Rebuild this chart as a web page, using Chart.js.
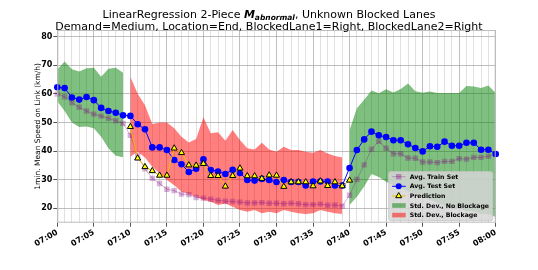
<!DOCTYPE html>
<html>
<head>
<meta charset="utf-8">
<script src="https://cdn.jsdelivr.net/npm/chart.js@4.4.0/dist/chart.umd.min.js"></script>
<style>
  html, body { margin: 0; padding: 0; background: #fff; }
  #wrap { width: 538px; height: 270px; position: relative; }
</style>
</head>
<body>
<div id="wrap"><canvas id="speedChart"></canvas></div>
<script>
// minute-by-minute time axis
const times = ['07:00','07:01','07:02','07:03','07:04','07:05','07:06','07:07','07:08','07:09',
  '07:10','07:11','07:12','07:13','07:14','07:15','07:16','07:17','07:18','07:19',
  '07:20','07:21','07:22','07:23','07:24','07:25','07:26','07:27','07:28','07:29',
  '07:30','07:31','07:32','07:33','07:34','07:35','07:36','07:37','07:38','07:39',
  '07:40','07:41','07:42','07:43','07:44','07:45','07:46','07:47','07:48','07:49',
  '07:50','07:51','07:52','07:53','07:54','07:55','07:56','07:57','07:58','07:59','08:00'];
const yTicks = [20, 30, 40, 50, 60, 70, 80];

const trainSet = [59.9, 59.0, 56.9, 55.3, 54.0, 52.9, 52.2, 51.5, 50.6, 49.7,
  45.5, 38.5, 33.8, 30.5, 28.7, 26.7, 26.2, 25.0, 24.8, 23.8,
  23.6, 23.2, 22.8, 22.5, 22.4, 22.2, 21.9, 21.9, 22.0, 21.8,
  21.8, 21.6, 21.8, 21.6, 21.3, 21.3, 21.5, 21.1, 21.2, 20.8,
  24.6, 30.1, 35.2, 40.7, 43.4, 41.0, 39.1, 39.1, 37.6, 37.5,
  36.2, 36.2, 36.0, 36.4, 36.4, 37.4, 37.2, 37.8, 37.8, 38.2, 38.9];
const testSet = [62.3, 62.0, 58.7, 58.0, 58.9, 57.8, 55.1, 54.0, 53.4, 52.5,
  52.3, 49.4, 47.6, 41.3, 41.3, 40.4, 36.9, 35.4, 32.7, 33.8,
  37.1, 33.4, 32.9, 32.0, 33.5, 32.4, 29.9, 29.7, 30.3, 29.9,
  29.2, 29.9, 29.2, 29.2, 28.0, 29.4, 29.4, 29.4, 28.0, 28.0,
  34.1, 40.4, 44.1, 46.8, 45.5, 44.9, 43.8, 43.8, 42.4, 41.1,
  39.9, 41.7, 41.5, 43.3, 41.9, 41.9, 42.9, 42.9, 40.5, 40.5, 39.0];
const prediction = [null, null, null, null, null, null, null, null, null, null,
  48.5, 37.5, 34.5, 33.1, 31.5, 31.5, 41.0, 39.4, 35.1, 35.0,
  35.6, 31.4, 31.4, 27.7, 31.4, 34.0, 31.3, 31.3, 30.4, 31.6,
  31.5, 27.6, 29.2, 29.2, 29.2, 27.8, 29.5, 27.9, 29.2, 27.8,
  29.8, null, null, null, null, null, null, null, null, null,
  null, null, null, null, null, null, null, null, null, null, null];
// std. dev. band, no blockage
const normalUpper = [68.5, 71.3, 68.6, 67.8, 68.9, 69.1, 66.0, 68.8, 69.1, 67.4,
  null, null, null, null, null, null, null, null, null, null,
  null, null, null, null, null, null, null, null, null, null,
  null, null, null, null, null, null, null, null, null, null,
  47.4, 55.0, 57.9, 61.2, 60.2, 61.6, 60.5, 61.7, 63.6, 60.9,
  60.4, 60.8, 60.3, 60.3, 60.3, 60.3, 62.7, 62.6, 62.0, 62.9, 60.3];
const normalLower = [57.4, 54.0, 50.0, 48.4, 48.6, 48.0, 45.0, 41.0, 38.4, 37.9,
  null, null, null, null, null, null, null, null, null, null,
  null, null, null, null, null, null, null, null, null, null,
  null, null, null, null, null, null, null, null, null, null,
  21.2, 24.1, 27.6, 32.0, 31.0, 29.3, 28.0, 27.0, 26.0, 25.0,
  24.0, 23.0, 22.0, 21.0, 20.0, 20.0, 19.0, 19.0, 18.0, 18.0, 17.0];
// std. dev. band, blockage
const blockUpper = [null, null, null, null, null, null, null, null, null, null,
  66.0, 60.0, 56.0, 49.5, 50.0, 50.0, 48.0, 45.0, 43.0, 44.2,
  51.8, 46.2, 46.6, 43.6, 47.4, 43.9, 41.0, 40.6, 42.9, 40.6,
  39.8, 41.5, 40.4, 40.4, 39.8, 39.4, 40.4, 39.2, 38.3, 37.8,
  null, null, null, null, null, null, null, null, null, null,
  null, null, null, null, null, null, null, null, null, null, null];
const blockLower = [null, null, null, null, null, null, null, null, null, null,
  38.0, 39.8, 37.8, 34.5, 32.2, 29.9, 28.1, 25.8, 25.0, 24.1,
  22.9, 22.3, 21.2, 21.7, 20.6, 19.4, 18.8, 19.4, 18.3, 18.8,
  18.3, 19.4, 18.8, 18.3, 18.0, 18.3, 19.4, 18.8, 18.3, 18.0,
  null, null, null, null, null, null, null, null, null, null,
  null, null, null, null, null, null, null, null, null, null, null];

const FONT = '"DejaVu Sans", sans-serif';
const GREEN = 'rgba(0,128,0,0.5)';
const RED = 'rgba(255,0,0,0.5)';
const PURPLE = 'rgba(128,0,128,0.3)';

// two-line title with bold italic M_abnormal
const titlePlugin = {
  id: 'twoLineTitle',
  afterDraw(chart) {
    const ctx = chart.ctx;
    ctx.save();
    ctx.fillStyle = '#000';
    ctx.textBaseline = 'alphabetic';
    const parts = [
      { t: 'LinearRegression 2-Piece ', f: '11px ' + FONT, dy: 0 },
      { t: 'M', f: 'italic bold 11px ' + FONT, dy: 0 },
      { t: 'abnormal', f: 'italic bold 7.5px ' + FONT, dy: 2 },
      { t: ', Unknown Blocked Lanes', f: '11px ' + FONT, dy: 0 }
    ];
    let total = 0;
    parts.forEach(p => { ctx.font = p.f; p.w = ctx.measureText(p.t).width; total += p.w; });
    let x = 269 - total / 2;
    parts.forEach(p => { ctx.font = p.f; ctx.fillText(p.t, x, 17.5 + p.dy); x += p.w; });
    ctx.font = '11px ' + FONT;
    ctx.textAlign = 'center';
    ctx.fillText('Demand=Medium, Location=End, BlockedLane1=Right, BlockedLane2=Right', 269, 29.5);
    ctx.restore();
  }
};

// frame around the plot area
const framePlugin = {
  id: 'frame',
  afterDatasetsDraw(chart) {
    const a = chart.chartArea, ctx = chart.ctx;
    ctx.save();
    ctx.strokeStyle = '#bdbdbd';
    ctx.lineWidth = 1;
    ctx.strokeRect(a.left + 0.5, a.top + 0.5, a.right - a.left - 1, a.bottom - a.top - 1);
    ctx.restore();
  }
};

// legend box in lower right
const legendPlugin = {
  id: 'boxLegend',
  afterDraw(chart) {
    const ctx = chart.ctx;
    const a = chart.chartArea;
    const bx = a.right - 107, by = a.bottom - 51, bw = 104, bh = 49;
    ctx.save();
    ctx.fillStyle = 'rgba(214,214,214,0.85)';
    ctx.strokeStyle = 'rgba(200,200,200,0.9)';
    ctx.beginPath();
    ctx.roundRect(bx, by, bw, bh, 2);
    ctx.fill();
    ctx.stroke();
    const rows = [
      { label: 'Avg. Train Set', kind: 'train' },
      { label: 'Avg. Test Set', kind: 'test' },
      { label: 'Prediction', kind: 'pred' },
      { label: 'Std. Dev., No Blockage', kind: 'green' },
      { label: 'Std. Dev., Blockage', kind: 'red' }
    ];
    const mx = bx + 10, x0 = bx + 3.5, x1 = bx + 17;
    rows.forEach((r, i) => {
      const y = by + 5 + i * 9.6;
      if (r.kind === 'green' || r.kind === 'red') {
        ctx.fillStyle = r.kind === 'green' ? GREEN : RED;
        ctx.fillRect(x0, y - 2.3, x1 - x0, 4.6);
      } else {
        ctx.lineWidth = 1;
        ctx.strokeStyle = r.kind === 'train' ? PURPLE : (r.kind === 'test' ? 'blue' : '#f2c200');
        ctx.beginPath(); ctx.moveTo(x0, y); ctx.lineTo(x1, y); ctx.stroke();
        if (r.kind === 'train') {
          ctx.fillStyle = 'rgba(128,0,128,0.35)';
          ctx.fillRect(mx - 2.7, y - 2.7, 5.4, 5.4);
        } else if (r.kind === 'test') {
          ctx.fillStyle = 'blue';
          ctx.beginPath(); ctx.arc(mx, y, 3, 0, Math.PI * 2); ctx.fill();
        } else {
          ctx.fillStyle = 'yellow'; ctx.strokeStyle = '#000';
          ctx.beginPath();
          ctx.moveTo(mx, y - 3.4); ctx.lineTo(mx + 3, y + 1.8); ctx.lineTo(mx - 3, y + 1.8);
          ctx.closePath(); ctx.fill(); ctx.stroke();
        }
      }
      ctx.fillStyle = '#000';
      ctx.font = 'bold 6.2px ' + FONT;
      ctx.textBaseline = 'middle';
      ctx.fillText(r.label, bx + 21, y + 0.5);
    });
    ctx.restore();
  }
};

const MAJOR = 'rgba(170,170,170,0.75)';
const MINOR = 'rgba(200,200,200,0.55)';

new Chart(document.getElementById('speedChart').getContext('2d'), {
  type: 'line',
  data: {
    labels: times,
    datasets: [
      { data: normalLower, borderWidth: 0, pointRadius: 0, fill: false, order: 20 },
      { data: normalUpper, borderWidth: 0, pointRadius: 0, fill: '-1', backgroundColor: GREEN, order: 19 },
      { data: blockLower, borderWidth: 0, pointRadius: 0, fill: false, order: 18 },
      { data: blockUpper, borderWidth: 0, pointRadius: 0, fill: '-1', backgroundColor: RED, order: 17 },
      {
        label: 'Avg. Train Set', data: trainSet, borderColor: PURPLE, borderWidth: 1,
        pointStyle: 'rect', pointRadius: 3.8, pointBackgroundColor: PURPLE, pointBorderWidth: 0, order: 3
      },
      {
        label: 'Avg. Test Set', data: testSet, borderColor: 'blue', borderWidth: 1,
        pointStyle: 'circle', pointRadius: 3.3, pointBackgroundColor: 'blue', pointBorderWidth: 0, order: 2
      },
      {
        label: 'Prediction', data: prediction, borderColor: '#f2b800', borderWidth: 1,
        pointStyle: 'triangle', pointRadius: 3.5, pointBackgroundColor: 'yellow',
        pointBorderColor: '#000', pointBorderWidth: 1, order: 1
      }
    ]
  },
  options: {
    responsive: true,
    maintainAspectRatio: false,
    animation: false,
    layout: { padding: { top: 30, right: 42.3, left: 29.5, bottom: 0 } },
    plugins: { legend: { display: false }, tooltip: { enabled: false }, title: { display: false } },
    elements: { line: { tension: 0 } },
    scales: {
      x: {
        type: 'category',
        offset: false,
        afterFit: s => { s.height = 47.3; },
        grid: {
          color: c => (c.index % 5 === 0 ? MAJOR : MINOR),
          tickColor: c => (c.index % 5 === 0 ? '#555' : 'rgba(0,0,0,0)'),
          tickLength: 4
        },
        border: { display: false },
        ticks: {
          autoSkip: false, maxRotation: 30, minRotation: 30, padding: 1,
          color: '#000', font: { family: FONT, size: 8, weight: 'bold' },
          callback: (v, i) => (i % 5 === 0 ? times[i] : '')
        }
      },
      y: {
        min: 15, max: 82.3,
        afterFit: s => { s.width = 27.8; },
        afterBuildTicks: s => { s.ticks = yTicks.map(v => ({ value: v })); },
        grid: { color: MAJOR, tickColor: '#555', tickLength: 4 },
        border: { display: false },
        ticks: { padding: 1, color: '#000', font: { family: FONT, size: 8, weight: 'bold' } },
        title: {
          display: true, text: '1min. Mean Speed on Link (km/h)', color: '#000',
          font: { family: FONT, size: 7.5 }, padding: { top: 4, bottom: 2 }
        }
      }
    }
  },
  plugins: [framePlugin, legendPlugin, titlePlugin]
});
</script>
</body>
</html>
